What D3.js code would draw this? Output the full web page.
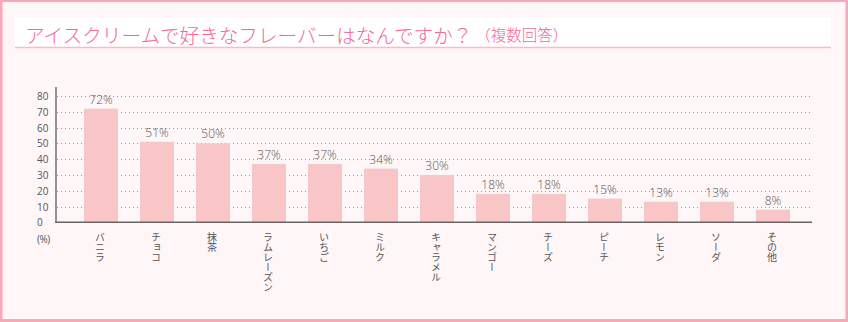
<!DOCTYPE html>
<html>
<head>
<meta charset="utf-8">
<script src="https://cdn.jsdelivr.net/npm/d3@7"></script>
<style>
  html, body { margin: 0; padding: 0; background: #fff; }
  svg { display: block; }
  text { font-family: "Open Sans", "Noto Sans CJK JP", sans-serif; }
  .jp { font-family: "Noto Sans CJK JP", sans-serif; }
</style>
</head>
<body>
<script>
const title = "アイスクリームで好きなフレーバーはなんですか？";
const subtitle = "（複数回答）";
const categories = ["バニラ", "チョコ", "抹茶", "ラムレーズン", "いちご", "ミルク", "キャラメル", "マンゴー", "チーズ", "ピーチ", "レモン", "ソーダ", "その他"];
const values = [72, 51, 50, 37, 37, 34, 30, 18, 18, 15, 13, 13, 8];
const yTicks = [0, 10, 20, 30, 40, 50, 60, 70, 80];
const unitLabel = "(%)";

const W = 848, H = 322;
const svg = d3.select("body").append("svg").attr("width", W).attr("height", H);

// frame
svg.append("rect").attr("x", 0).attr("y", 0).attr("width", W).attr("height", H).attr("fill", "#f8a9b8");
svg.append("rect").attr("x", 2.5).attr("y", 2).attr("width", W - 5).attr("height", H - 5).attr("fill", "#fff7f7");

// title box
svg.append("rect").attr("x", 15).attr("y", 17).attr("width", 816).attr("height", 31).attr("fill", "#ffffff");
svg.append("line").attr("x1", 15).attr("x2", 831).attr("y1", 47.5).attr("y2", 47.5)
  .attr("stroke", "#ffb8c4").attr("stroke-width", 1.5);
const t = svg.append("text").attr("class", "jp").attr("x", 25).attr("y", 33.5)
  .attr("dominant-baseline", "central").attr("fill", "#f0699a").attr("font-weight", 300);
t.append("tspan").attr("font-size", 19.6).text(title);
t.append("tspan").attr("font-size", 15.5).attr("dx", 3).text(subtitle);

// scales
const x = d3.scaleBand().domain(categories).range([73, 801]).paddingInner(22 / 56).paddingOuter(11 / 56);
const y = d3.scaleLinear().domain([0, 80]).range([222.3, 96]);

// grid
svg.append("g").selectAll("line").data(yTicks.filter(d => d > 0)).join("line")
  .attr("x1", 57).attr("x2", 811)
  .attr("y1", d => Math.round(y(d)) + 0.5).attr("y2", d => Math.round(y(d)) + 0.5)
  .attr("stroke", "#9a9a9a").attr("stroke-width", 1).attr("stroke-dasharray", "1,3");

// bars
svg.append("g").selectAll("rect").data(values).join("rect")
  .attr("x", (d, i) => x(categories[i]))
  .attr("width", x.bandwidth())
  .attr("y", d => y(d))
  .attr("height", d => y(0) - y(d))
  .attr("fill", "#f8c6c6");

// value labels
svg.append("g").selectAll("text").data(values).join("text")
  .attr("x", (d, i) => x(categories[i]) + x.bandwidth() / 2)
  .attr("y", d => y(d) - 5)
  .attr("text-anchor", "middle")
  .attr("font-size", 12)
  .attr("font-weight", 300)
  .attr("fill", "#555")
  .text(d => d + "%");

// axes lines
svg.append("line").attr("x1", 56).attr("x2", 56).attr("y1", 87).attr("y2", y(0) + 0.7)
  .attr("stroke", "#666").attr("stroke-width", 1.4);
svg.append("line").attr("x1", 55.3).attr("x2", 812).attr("y1", y(0)).attr("y2", y(0))
  .attr("stroke", "#666").attr("stroke-width", 1.4);

// y tick labels
svg.append("g").selectAll("text").data(yTicks).join("text")
  .attr("x", 37).attr("y", d => y(d))
  .attr("dominant-baseline", "central")
  .attr("font-size", 10)
  .attr("fill", "#555")
  .text(d => d);
svg.append("text").attr("x", 37).attr("y", 238.5).attr("dominant-baseline", "central")
  .attr("font-size", 10).attr("fill", "#555").attr("letter-spacing", -0.5).text(unitLabel);

// category labels (vertical)
svg.append("g").selectAll("text").data(categories).join("text")
  .attr("class", "jp")
  .attr("x", d => x(d) + x.bandwidth() / 2 - 1)
  .attr("y", 232)
  .attr("writing-mode", "vertical-rl")
  .attr("font-size", 10)
  .attr("fill", "#555")
  .text(d => d);
</script>
</body>
</html>
